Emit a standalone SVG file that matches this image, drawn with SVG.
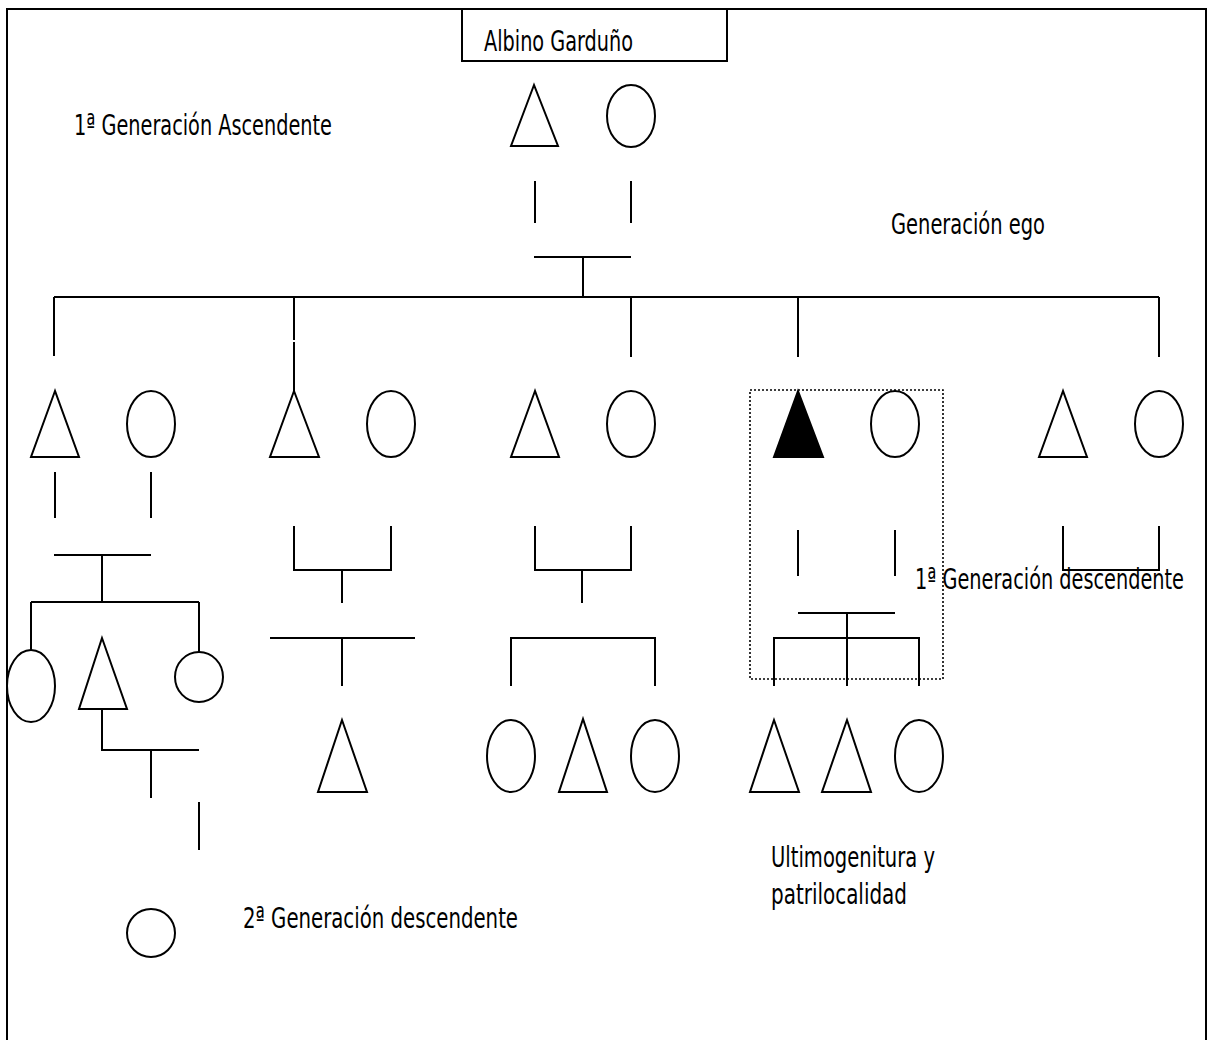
<svg xmlns="http://www.w3.org/2000/svg" width="1209" height="1040" viewBox="0 0 1209 1040">
<style>
.ln{stroke:#000;stroke-width:2;fill:none}
.sh{stroke:#000;stroke-width:2;fill:#fff}
.fill{stroke:#000;stroke-width:2;fill:#000}
.dot{stroke:#000;stroke-width:1.6;fill:none;stroke-dasharray:2 2}
.t{font-family:"Liberation Sans Narrow","DejaVu Sans Condensed","Liberation Sans",sans-serif;font-size:29px;fill:#000}
</style>
<rect x="0" y="0" width="1209" height="1040" fill="#fff"/>
<rect class="ln" x="7" y="9" width="1199" height="1040"/>
<g id="title">
<rect class="ln" x="462" y="9" width="265" height="52"/>
<text class="t" x="484" y="51" textLength="149" lengthAdjust="spacingAndGlyphs">Albino Garduño</text>
</g>
<g id="labels">
<text class="t" x="74" y="135" textLength="258" lengthAdjust="spacingAndGlyphs">1ª Generación Ascendente</text>
<text class="t" x="891" y="234" textLength="154" lengthAdjust="spacingAndGlyphs">Generación ego</text>
<text class="t" x="915" y="589" textLength="269" lengthAdjust="spacingAndGlyphs">1ª Generación descendente</text>
<text class="t" x="243" y="928" textLength="275" lengthAdjust="spacingAndGlyphs">2ª Generación descendente</text>
<text class="t" x="771" y="867" textLength="164" lengthAdjust="spacingAndGlyphs">Ultimogenitura y</text>
<text class="t" x="771" y="904" textLength="136" lengthAdjust="spacingAndGlyphs">patrilocalidad</text>
</g>
<g id="connectors">
<path class="ln" d="M535 181V223M631 181V223M534 257H631M583 257V297M54 297H1159"/>
<path class="ln" d="M54 297V356M294 297V340M294 342V391M631 297V357M798 297V357M1159 297V357"/>
<path class="ln" d="M55 472V518M151 472V518M54 555H151M102 555V602M31 602H199M31 602V650M199 602V652"/>
<path class="ln" d="M102 709V750H199M151 750V798M199 802V850"/>
<path class="ln" d="M294 526V570H391V526M342 570V603M270 638H415M342 638V686"/>
<path class="ln" d="M535 526V570H631V526M582 570V603M511 686V638H655V686"/>
<path class="ln" d="M798 530V576M895 530V576M798 613H895M847 613V686M774 686V638H919V686"/>
<path class="ln" d="M1063 526V570H1159V526"/>
<rect class="dot" x="750" y="390" width="193" height="289"/>
</g>
<g id="gen-asc">
<polygon id="father" class="sh" points="534,85 511,146 558,146"/>
<ellipse id="mother" class="sh" cx="631" cy="116" rx="24" ry="31"/>
</g>
<g id="gen-ego">
<polygon id="son1" class="sh" points="55,391 31,457 79,457"/>
<ellipse id="wife1" class="sh" cx="151" cy="424" rx="24" ry="33"/>
<polygon id="son2" class="sh" points="294,391 270,457 319,457"/>
<ellipse id="wife2" class="sh" cx="391" cy="424" rx="24" ry="33"/>
<polygon id="son3" class="sh" points="535,391 511,457 559,457"/>
<ellipse id="wife3" class="sh" cx="631" cy="424" rx="24" ry="33"/>
<polygon id="ego" class="fill" points="798,391 774,457 823,457"/>
<ellipse id="wife4" class="sh" cx="895" cy="424" rx="24" ry="33"/>
<polygon id="son5" class="sh" points="1063,391 1039,457 1087,457"/>
<ellipse id="wife5" class="sh" cx="1159" cy="424" rx="24" ry="33"/>
</g>
<g id="gen-desc1">
<ellipse id="c1a" class="sh" cx="31" cy="686" rx="24" ry="36"/>
<polygon id="c1b" class="sh" points="102,638 79,709 127,709"/>
<ellipse id="c1c" class="sh" cx="199" cy="677" rx="24" ry="25"/>
<polygon id="c2a" class="sh" points="342,720 318,792 367,792"/>
<ellipse id="c3a" class="sh" cx="511" cy="756" rx="24" ry="36"/>
<polygon id="c3b" class="sh" points="583,719 559,792 607,792"/>
<ellipse id="c3c" class="sh" cx="655" cy="756" rx="24" ry="36"/>
<polygon id="c4a" class="sh" points="774,720 750,792 799,792"/>
<polygon id="c4b" class="sh" points="847,720 822,792 871,792"/>
<ellipse id="c4c" class="sh" cx="919" cy="756" rx="24" ry="36"/>
</g>
<g id="gen-desc2">
<ellipse id="gc1" class="sh" cx="151" cy="933" rx="24" ry="24"/>
</g>
</svg>
